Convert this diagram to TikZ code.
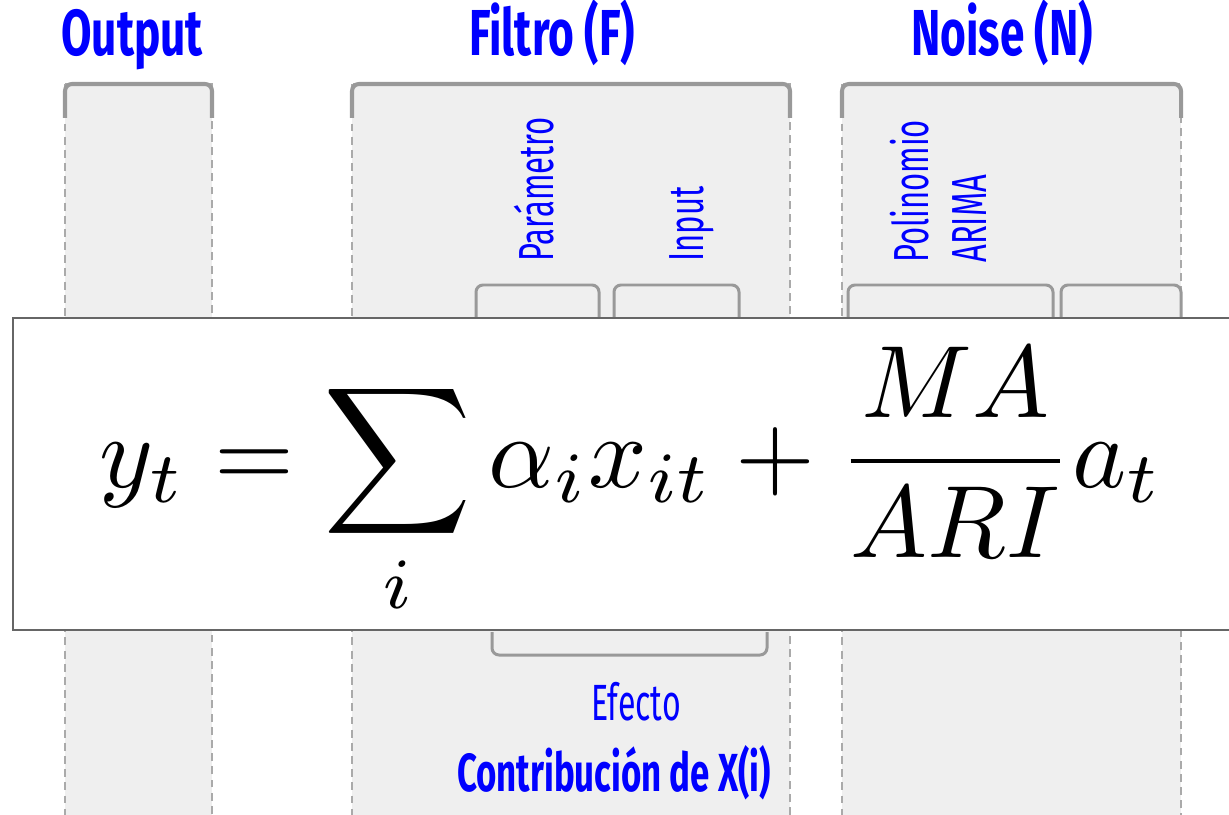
\documentclass[tikz,border=0pt]{standalone}
\usepackage{amsmath}
\usepackage{fontspec}
\newfontfamily\titlefont{Fira Sans}[FakeStretch=0.68]
\newfontfamily\labelfont{Fira Sans}[FakeStretch=0.63]
\newfontfamily\contribfont{Fira Sans}[FakeStretch=0.65]
\usetikzlibrary{positioning}
\definecolor{labelblue}{RGB}{0,0,255}
\definecolor{colfill}{RGB}{239,239,239}
\definecolor{dashgray}{RGB}{170,170,170}
\definecolor{bracegray}{RGB}{153,153,153}
\definecolor{boxgray}{RGB}{102,102,102}
\tikzset{
  colbox/.style={fill=colfill,draw=dashgray,line width=0.85pt,dash pattern=on 4.5pt off 3pt},
  bigbrace/.style={draw=bracegray,line width=2.3pt,rounded corners=4pt},
  smallbrace/.style={draw=bracegray,line width=1.7pt,rounded corners=4pt},
  titletext/.style={anchor=base,inner sep=0pt,text=labelblue,font=\titlefont\bfseries\fontsize{37}{40}\selectfont},
  vlabel/.style={rotate=90,anchor=base west,inner sep=0pt,text=labelblue,font=\labelfont\fontsize{28}{33}\selectfont},
  efftext/.style={anchor=base,inner sep=0pt,text=labelblue,font=\labelfont\fontsize{29}{33}\selectfont},
  contribtext/.style={anchor=base,inner sep=0pt,text=labelblue,font=\contribfont\bfseries\fontsize{30.5}{34}\selectfont},
  eqbox/.style={draw=boxgray,fill=white,line width=1.1pt}
}
\begin{document}
\begin{tikzpicture}[x=0.02cm,y=-0.02cm]
\useasboundingbox (0,0) rectangle (1229,814);
% shaded columns with their top braces
\foreach \xl/\xr in {65/212,352/790,842/1181}{
  \path[colbox] (\xl,84) rectangle (\xr,830);
  \draw[bigbrace] (\xl,118) -- (\xl,84) -- (\xr,84) -- (\xr,118);
}
\node[titletext] (tout) at (132,56) {Output};
\node[titletext] (tfilt) at (552,56) {Filtro (F)};
\node[titletext] (tnoise) at (1002,56) {Noise (N)};
% small braces above the formula
\foreach \xl/\xr in {476/599,614/739,848/1053,1061/1181}
  \draw[smallbrace] (\xl,325) -- (\xl,285) -- (\xr,285) -- (\xr,325);
\node[vlabel] (param) at (553,262) {Parámetro};
\node[vlabel] (input) at (703,262) {Input};
\node[vlabel,align=left,anchor=south west] (arima) at (987,263) {Polinomio\\ARIMA};
% the formula itself
\draw[eqbox] (13,318) rectangle (1240,630);
\node[anchor=base,inner sep=0pt,scale=5.85,font=\fontsize{10}{12}\selectfont] (eq) at (631,487)
  {$\displaystyle y_t=\sum_i \alpha_i x_{it}+\frac{MA}{ARI}a_t$};
% brace below the formula
\draw[smallbrace] (492,632) -- (492,655) -- (767,655) -- (767,632);
\node[efftext] (efecto) at (636,720) {Efecto};
\node[contribtext] (contrib) at (614,791) {Contribución de X(i)};
\end{tikzpicture}
\end{document}
